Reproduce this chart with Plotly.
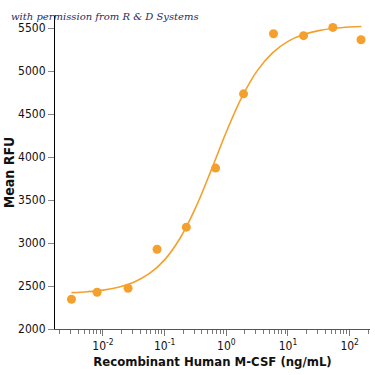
import plotly.graph_objects as go

# Measured points (concentration ng/mL, Mean RFU)
conc = [0.00309, 0.00805, 0.0256, 0.0755, 0.225, 0.671, 1.905, 5.83, 17.9, 53.4, 153]
rfu = [2346, 2427, 2474, 2928, 3184, 3871, 4735, 5434, 5411, 5507, 5364]

# Fitted curve
curve_conc = [0.00309, 0.00562, 0.01, 0.0178, 0.0316, 0.0562, 0.1, 0.178, 0.316, 0.562,
              1.0, 1.78, 3.16, 5.62, 10, 17.8, 31.6, 56.2, 100, 155]
curve_rfu = [2423, 2434, 2452, 2486, 2544, 2643, 2804, 3055, 3405, 3836,
             4291, 4693, 5002, 5212, 5345, 5424, 5470, 5497, 5512, 5518]

x_tickvals = [0.01, 0.1, 1, 10, 100]
x_ticktext = ["10<sup>-2</sup>", "10<sup>-1</sup>", "10<sup>0</sup>", "10<sup>1</sup>", "10<sup>2</sup>"]
y_tickvals = [2000, 2500, 3000, 3500, 4000, 4500, 5000, 5500]

orange = "#F5A02C"
font_family = "DejaVu Sans Condensed, Liberation Sans Narrow, Arial Narrow, sans-serif"

fig = go.Figure()
fig.add_trace(go.Scatter(x=curve_conc, y=curve_rfu, mode="lines",
                         line=dict(color=orange, width=1.6, shape="spline"),
                         hoverinfo="skip", showlegend=False))
fig.add_trace(go.Scatter(x=conc, y=rfu, mode="markers",
                         marker=dict(color=orange, size=9, line=dict(width=0)),
                         showlegend=False))

fig.update_layout(
    width=375, height=375,
    margin=dict(l=55, r=5, t=16, b=46, autoexpand=False),
    paper_bgcolor="white", plot_bgcolor="white",
    font=dict(family=font_family, color="#111111", size=12),
    annotations=[dict(text="<i>with permission from R &amp; D Systems</i>",
                      xref="paper", yref="paper", x=-0.145, y=1.0,
                      xanchor="left", yanchor="middle", showarrow=False,
                      font=dict(family="DejaVu Serif, serif", size=10, color="#1f2b5c"))],
)
fig.update_xaxes(type="log", range=[-2.777, 2.33],
                 tickvals=x_tickvals, ticktext=x_ticktext,
                 ticks="outside", ticklen=6, tickcolor="#777777", tickwidth=1,
                 showline=True, linecolor="#555555", linewidth=1,
                 showgrid=False, zeroline=False,
                 minor=dict(dtick="D1", ticks="outside", ticklen=4, tickcolor="#777777", showgrid=False),
                 tickfont=dict(size=12, family=font_family),
                 title=dict(text="<b>Recombinant Human M-CSF (ng/mL)</b>", font=dict(size=13), standoff=4))
fig.update_yaxes(range=[2000, 5640], tickvals=y_tickvals,
                 ticks="outside", ticklen=6, tickcolor="#888888", tickwidth=1,
                 showline=True, linecolor="black", linewidth=1.2,
                 showgrid=False, zeroline=False,
                 tickfont=dict(size=12, family=font_family),
                 title=dict(text="<b>Mean RFU</b>", font=dict(size=14), standoff=0))

fig.write_html("out.html", config={"displayModeBar": False},
               post_script="document.body.style.margin='0';document.body.style.overflow='hidden';")
